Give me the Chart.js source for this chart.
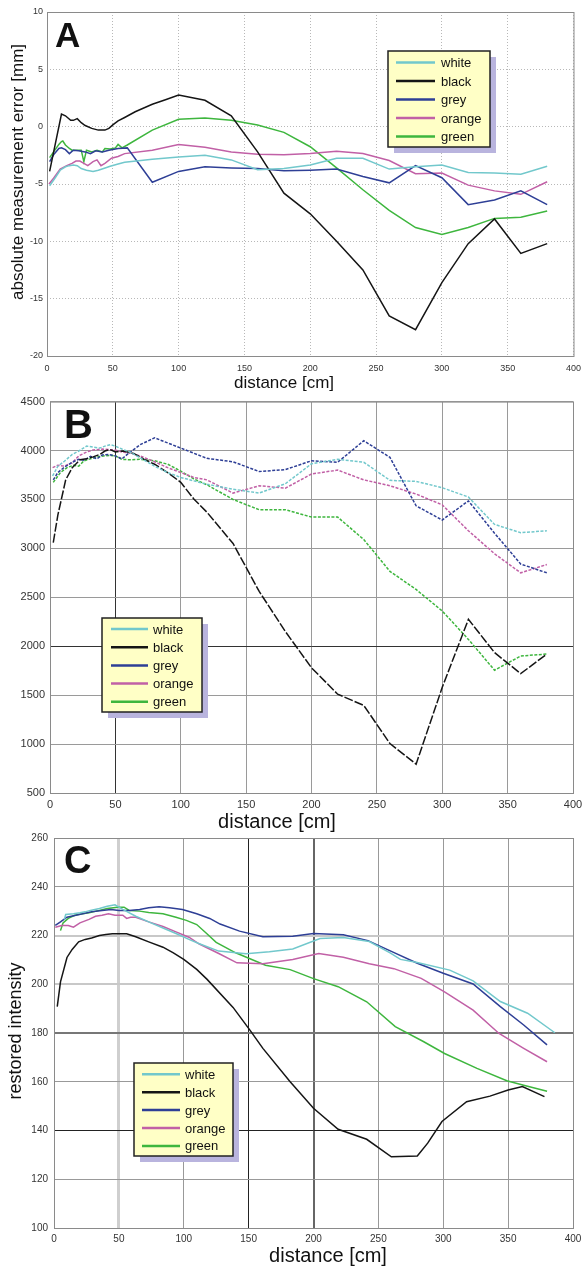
<!DOCTYPE html>
<html>
<head>
<meta charset="utf-8">
<script src="https://cdn.jsdelivr.net/npm/chart.js@4.4.1/dist/chart.umd.min.js"></script>
<style>
  body { margin: 0; background: #fff; width: 588px; height: 1267px; overflow: hidden; }
  canvas { position: absolute; left: 0; }
</style>
</head>
<body>
<canvas id="chartA" width="588" height="400" style="top:0px"></canvas>
<canvas id="chartB" width="588" height="450" style="top:390px"></canvas>
<canvas id="chartC" width="588" height="442" style="top:825px"></canvas>
<script>
// series names and shared x ticks
const seriesNames = ["white", "black", "grey", "orange", "green"];
const distanceTicks = [0, 50, 100, 150, 200, 250, 300, 350, 400];

// panel A - absolute measurement error [mm]
const aTicks = [-20, -15, -10, -5, 0, 5, 10];
const aWhiteX = [2, 6, 10, 14, 17, 20, 23, 26, 30, 35, 39, 43, 48, 54, 59, 80, 100, 120, 140, 160, 180, 200, 220, 240, 260, 280, 300, 320, 340, 360, 380];
const aWhiteY = [-5.15, -4.5, -3.8, -3.5, -3.4, -3.35, -3.4, -3.65, -3.8, -3.9, -3.8, -3.65, -3.45, -3.25, -3.1, -2.85, -2.65, -2.5, -2.9, -3.75, -3.65, -3.35, -2.75, -2.75, -3.7, -3.5, -3.35, -4.0, -4.05, -4.15, -3.45];
const aBlackX = [2, 11, 14, 18, 20, 23, 26, 29, 34, 39, 44, 47, 50, 54, 59, 67, 80, 90, 100, 120, 140, 160, 180, 200, 220, 240, 260, 280, 300, 320, 340, 360, 380];
const aBlackY = [-3.9, 1.1, 0.95, 0.55, 0.55, 0.7, 0.35, 0.1, -0.15, -0.3, -0.3, -0.15, 0.15, 0.5, 0.8, 1.3, 1.95, 2.35, 2.75, 2.3, 0.95, -2.2, -5.8, -7.6, -10.0, -12.5, -16.5, -17.7, -13.6, -10.2, -8.05, -11.05, -10.2];
const aGreyX = [2, 5, 9, 11, 14, 17, 20, 24, 29, 33, 37, 42, 47, 54, 61, 80, 100, 120, 140, 160, 180, 200, 220, 240, 260, 280, 300, 320, 340, 360, 380];
const aGreyY = [-3.05, -2.45, -1.9, -1.85, -2.0, -2.35, -2.05, -2.1, -2.2, -2.35, -2.1, -2.2, -2.05, -1.9, -1.85, -4.85, -3.9, -3.5, -3.6, -3.65, -3.85, -3.8, -3.7, -4.35, -4.9, -3.4, -4.45, -6.8, -6.4, -5.6, -6.8];
const aOrangeX = [1.5, 5, 10, 15, 19, 22, 25, 28, 31, 35, 38, 41, 44, 49, 54, 59, 80, 100, 120, 140, 160, 180, 200, 220, 240, 260, 280, 300, 320, 340, 360, 380];
const aOrangeY = [-5.0, -4.5, -3.7, -3.4, -3.2, -3.0, -3.0, -3.2, -3.4, -3.05, -2.9, -3.4, -3.2, -2.75, -2.6, -2.35, -2.05, -1.55, -1.8, -2.2, -2.4, -2.45, -2.35, -2.15, -2.35, -2.95, -4.1, -4.05, -5.1, -5.6, -5.9, -4.8];
const aGreenX = [2, 9, 11, 12, 14, 17, 19, 23, 26, 28, 30, 34, 38, 42, 44, 48, 52, 54, 57, 61, 80, 100, 120, 140, 160, 180, 200, 220, 240, 260, 280, 300, 320, 340, 360, 380];
const aGreenY = [-2.7, -1.55, -1.3, -1.25, -1.6, -1.9, -2.05, -2.05, -2.05, -3.05, -2.05, -2.2, -2.05, -2.2, -1.9, -1.95, -1.85, -1.55, -1.85, -1.6, -0.3, 0.64, 0.75, 0.55, 0.15, -0.5, -1.75, -3.6, -5.5, -7.3, -8.8, -9.4, -8.8, -8.0, -7.9, -7.35];

// panel B - raw values
const bTicks = [500, 1000, 1500, 2000, 2500, 3000, 3500, 4000, 4500];
const bWhiteX = [2, 6, 11, 17, 22, 28, 33, 38, 42, 46, 50, 55, 61, 69, 80, 90, 100, 110, 120, 140, 160, 180, 200, 220, 240, 260, 280, 300, 320, 340, 360, 380];
const bWhiteY = [3740, 3840, 3890, 3960, 3995, 4045, 4035, 4025, 4045, 4060, 4045, 4015, 3985, 3925, 3840, 3775, 3725, 3690, 3655, 3605, 3565, 3660, 3865, 3910, 3880, 3695, 3685, 3620, 3525, 3245, 3160, 3180];
const bBlackX = [2.5, 6, 12, 17, 23, 28, 33, 38, 42, 46, 50, 56, 64, 72, 80, 90, 100, 110, 120, 140, 160, 180, 200, 220, 240, 260, 280, 300, 320, 340, 360, 380];
const bBlackY = [3060, 3340, 3700, 3825, 3905, 3915, 3935, 3960, 3995, 4010, 3985, 3995, 3970, 3910, 3860, 3775, 3675, 3505, 3370, 3050, 2560, 2150, 1780, 1510, 1395, 1005, 795, 1580, 2275, 1935, 1720, 1920];
const bGreyX = [2.5, 6, 11, 17, 22, 26, 31, 36, 40, 45, 50, 55, 60, 69, 80, 100, 120, 140, 160, 180, 200, 220, 240, 260, 280, 300, 320, 340, 360, 380];
const bGreyY = [3700, 3775, 3830, 3880, 3910, 3900, 3940, 3915, 3955, 3960, 3945, 3915, 3970, 4060, 4130, 4025, 3920, 3885, 3785, 3805, 3895, 3880, 4100, 3930, 3435, 3290, 3485, 3155, 2840, 2750];
const bOrangeX = [2, 6, 11, 17, 22, 28, 33, 40, 45, 50, 55, 61, 69, 80, 90, 100, 110, 120, 140, 160, 180, 200, 220, 240, 260, 280, 300, 320, 340, 360, 380];
const bOrangeY = [3825, 3850, 3840, 3875, 3945, 3985, 4005, 4015, 4010, 4005, 3985, 3975, 3945, 3885, 3825, 3775, 3725, 3700, 3565, 3640, 3615, 3760, 3800, 3700, 3640, 3555, 3445, 3180, 2945, 2750, 2835];
const bGreenX = [2.5, 8, 13, 18, 22, 26, 31, 36, 41, 46, 50, 55, 61, 69, 80, 90, 100, 110, 120, 140, 160, 180, 200, 220, 240, 260, 280, 300, 320, 340, 360, 380];
const bGreenY = [3675, 3775, 3825, 3850, 3840, 3895, 3915, 3935, 3945, 3950, 3945, 3910, 3905, 3910, 3895, 3860, 3790, 3710, 3650, 3500, 3395, 3395, 3320, 3320, 3090, 2765, 2580, 2360, 2070, 1755, 1900, 1920];

// panel C - restored intensity
const cTicks = [100, 120, 140, 160, 180, 200, 220, 240, 260];
const cWhiteX = [8, 9, 15, 20, 24, 28, 35, 41, 47, 53, 63, 73, 84, 94, 104, 112, 127, 148, 166, 184, 205, 223, 243, 259, 267, 280, 305, 323, 344, 365, 386];
const cWhiteY = [226.5, 228.6, 228.9, 229.3, 229.7, 230.3, 231.1, 232, 232.6, 230.7, 227.9, 225.6, 223.1, 220.8, 218.4, 216.6, 213.6, 212.5, 213.3, 214.5, 218.8, 219.2, 217.5, 212.9, 210.2, 208.9, 205.8, 201.4, 192.9, 188.1, 180.1];
const cBlackX = [2.5, 5, 10, 14, 19, 24, 29, 35, 40, 45, 50, 56, 63, 73, 84, 92, 100, 110, 118, 138, 151, 161, 182, 200, 219, 241, 260, 280, 288, 299, 318, 336, 350, 361, 378];
const cBlackY = [190.8, 201, 211, 214.3, 217.4, 218.4, 219, 220, 220.4, 220.7, 220.7, 220.7, 219.5, 217.4, 215.2, 212.9, 210.2, 206.1, 202, 190.5, 181.2, 173.7, 160, 149.1, 140.5, 136.4, 129.2, 129.5, 134.8, 143.7, 151.8, 154.1, 156.6, 158, 153.9];
const cGreyX = [1, 5, 10, 16, 22, 29, 37, 44, 50, 58, 66, 73, 81, 89, 99, 110, 120, 128, 143, 161, 184, 200, 223, 242, 260, 280, 300, 323, 344, 362, 380];
const cGreyY = [224.2, 225.6, 227.5, 228.2, 228.9, 229.7, 230.3, 230.7, 230.3, 230.3, 230.7, 231.4, 231.8, 231.4, 230.7, 228.9, 227, 224.7, 221.8, 219.5, 219.7, 220.8, 220.3, 217.9, 213.5, 208.6, 204.5, 200.1, 190.8, 183.3, 175.1];
const cOrangeX = [1, 6, 11, 15, 20, 27, 32, 37, 42, 47, 53, 56, 59, 63, 73, 84, 94, 104, 112, 127, 141, 161, 184, 204, 223, 243, 262, 283, 301, 323, 343, 362, 380];
const cOrangeY = [223.4, 224.1, 224.1, 223.4, 225.2, 226.6, 227.9, 228.3, 228.9, 228.3, 228.3, 227, 227.5, 227.5, 225.6, 223.7, 221.5, 219.3, 216.5, 212.6, 208.8, 208.4, 210.2, 212.6, 211.1, 208.4, 206.4, 202.4, 196.9, 189.4, 179.8, 173.7, 168.2];
const cGreenX = [5, 7, 11, 16, 22, 27, 35, 41, 49, 54, 58, 66, 73, 84, 94, 102, 110, 117, 125, 140, 163, 182, 200, 219, 241, 263, 285, 301, 326, 349, 362, 380];
const cGreenY = [222, 225.2, 227, 228.3, 228.9, 229.3, 230.3, 231.1, 231.6, 231.6, 230.3, 230, 229.4, 228.9, 227.5, 226.2, 224.5, 221.1, 217.2, 212.9, 207.8, 206, 202.3, 199, 192.8, 182.6, 176.4, 171.6, 165.5, 160.4, 158.6, 156.1];

const colors = {
  white: "#72c8cc",
  black: "#151515",
  grey: "#2e3f96",
  orange: "#c160a6",
  green: "#3eb63e",
};

const toPoints = (xs, ys) => xs.map((x, i) => ({ x, y: ys[i] }));

const makeDatasets = (pairs, dashes) =>
  seriesNames.map((name, i) => ({
    label: name,
    data: toPoints(pairs[i][0], pairs[i][1]),
    borderColor: colors[name],
    borderWidth: 1.5,
    borderDash: dashes ? dashes[name] : [],
    pointRadius: 0,
    tension: 0,
    fill: false,
  }));

// draws frame, panel letter, axis titles and the legend box
const decorPlugin = {
  id: "decor",
  afterDraw(chart, args, o) {
    const { ctx, chartArea: a } = chart;
    ctx.save();
    ctx.strokeStyle = o.frameColor;
    ctx.lineWidth = 1;
    ctx.strokeRect(a.left + 0.5, a.top + 0.5, a.right - a.left, a.bottom - a.top);

    ctx.fillStyle = "#111";
    ctx.font = `bold ${o.letter.size}px Arial, "Liberation Sans", sans-serif`;
    ctx.textAlign = "left";
    ctx.textBaseline = "alphabetic";
    ctx.fillText(o.letter.text, o.letter.x, o.letter.y);

    ctx.font = `${o.xTitle.size}px Arial, "Liberation Sans", sans-serif`;
    ctx.textAlign = "center";
    ctx.textBaseline = "middle";
    ctx.fillText("distance [cm]", o.xTitle.x, o.xTitle.y);

    if (o.yTitle) {
      ctx.save();
      ctx.translate(o.yTitle.x, o.yTitle.y);
      ctx.rotate(-Math.PI / 2);
      ctx.font = `${o.yTitle.size}px Arial, "Liberation Sans", sans-serif`;
      ctx.fillText(o.yTitle.text, 0, 0);
      ctx.restore();
    }

    const L = o.legend;
    ctx.fillStyle = "#b9b4de";
    ctx.fillRect(L.x + 6, L.y + 6, L.w, L.h);
    ctx.fillStyle = "#ffffc6";
    ctx.fillRect(L.x, L.y, L.w, L.h);
    ctx.strokeStyle = "#222";
    ctx.lineWidth = 1.5;
    ctx.strokeRect(L.x, L.y, L.w, L.h);
    ctx.font = '13px Arial, "Liberation Sans", sans-serif';
    ctx.textAlign = "left";
    ctx.textBaseline = "middle";
    seriesNames.forEach((name, i) => {
      const y = L.y + L.first + i * L.gap;
      ctx.strokeStyle = colors[name];
      ctx.lineWidth = 2.5;
      ctx.beginPath();
      ctx.moveTo(L.x0, y);
      ctx.lineTo(L.x1, y);
      ctx.stroke();
      ctx.fillStyle = "#111";
      ctx.fillText(name, L.tx, y + 1);
    });
    ctx.restore();
  },
};

const tickFont = (size) => ({ family: 'Arial, "Liberation Sans", sans-serif', size });
const plainLabel = (v) => String(v);

function makeChart(id, cfg) {
  return new Chart(document.getElementById(id), {
    type: "line",
    data: { datasets: cfg.datasets },
    plugins: [decorPlugin],
    options: {
      responsive: false,
      animation: false,
      events: [],
      layout: { padding: { top: cfg.top, right: cfg.right, left: 0, bottom: 0 } },
      plugins: { legend: { display: false }, tooltip: { enabled: false }, decor: cfg.decor },
      scales: {
        x: {
          type: "linear",
          min: 0,
          max: 400,
          afterBuildTicks: (s) => { s.ticks = distanceTicks.map((v) => ({ value: v })); },
          afterFit: (s) => { s.height = cfg.xHeight; },
          grid: { color: cfg.xGrid, lineWidth: cfg.xGridWidth || 1, drawTicks: false },
          border: { display: false, dash: cfg.dash },
          ticks: { font: tickFont(cfg.tickSize), color: "#333", padding: cfg.xPad, maxRotation: 0, callback: plainLabel },
        },
        y: {
          type: "linear",
          min: cfg.yTicks[0],
          max: cfg.yTicks[cfg.yTicks.length - 1],
          afterBuildTicks: (s) => { s.ticks = cfg.yTicks.map((v) => ({ value: v })); },
          afterFit: (s) => { s.width = cfg.yWidth; },
          grid: { color: cfg.yGrid, lineWidth: cfg.yGridWidth || 1, drawTicks: false },
          border: { display: false, dash: cfg.dash },
          ticks: { font: tickFont(cfg.yTickSize || cfg.tickSize), color: "#333", padding: cfg.yPad, callback: plainLabel },
        },
      },
    },
  });
}

makeChart("chartA", {
  datasets: makeDatasets([
    [aWhiteX, aWhiteY], [aBlackX, aBlackY], [aGreyX, aGreyY], [aOrangeX, aOrangeY], [aGreenX, aGreenY],
  ]),
  yTicks: aTicks,
  top: 12, right: 12, xHeight: 44, yWidth: 47,
  tickSize: 9, xPad: 7, yPad: 4,
  dash: [1, 2],
  xGrid: "#b8b8b8", yGrid: "#b8b8b8",
  decor: {
    frameColor: "#8a8a8a",
    letter: { text: "A", size: 35, x: 55, y: 47 },
    xTitle: { size: 17, x: 284, y: 383 },
    yTitle: { text: "absolute measurement error [mm]", size: 17, x: 18, y: 172 },
    legend: { x: 388, y: 51, w: 102, h: 96, first: 11.5, gap: 18.5, x0: 396, x1: 435, tx: 441 },
  },
});

makeChart("chartB", {
  datasets: makeDatasets([
    [bWhiteX, bWhiteY], [bBlackX, bBlackY], [bGreyX, bGreyY], [bOrangeX, bOrangeY], [bGreenX, bGreenY],
  ], { white: [3, 1.5], black: [9, 2], grey: [3, 1.5], orange: [3, 1.5], green: [3, 1.5] }),
  yTicks: bTicks,
  top: 9, right: 15, xHeight: 47, yWidth: 50,
  tickSize: 11, yTickSize: 11, xPad: 5, yPad: 5,
  dash: [],
  xGrid: (c) => (c.tick && c.tick.value === 50 ? "#333" : "#9a9a9a"),
  yGrid: (c) => (c.tick && c.tick.value === 2000 ? "#333" : "#9a9a9a"),
  decor: {
    frameColor: "#8a8a8a",
    letter: { text: "B", size: 40, x: 64, y: 48 },
    xTitle: { size: 20, x: 277, y: 432 },
    legend: { x: 102, y: 228, w: 100, h: 94, first: 11, gap: 18.2, x0: 111, x1: 148, tx: 153 },
  },
});

makeChart("chartC", {
  datasets: makeDatasets([
    [cWhiteX, cWhiteY], [cBlackX, cBlackY], [cGreyX, cGreyY], [cOrangeX, cOrangeY], [cGreenX, cGreenY],
  ]),
  yTicks: cTicks,
  top: 13, right: 15, xHeight: 39, yWidth: 54,
  tickSize: 10, xPad: 5, yPad: 6,
  dash: [],
  xGrid: (c) => {
    const v = c.tick && c.tick.value;
    if (v === 150) return "#222";
    if (v === 200) return "#666";
    if (v === 50) return "#cfcfcf";
    return "#999";
  },
  xGridWidth: (c) => {
    const v = c.tick && c.tick.value;
    if (v === 50) return 3;
    if (v === 200) return 2;
    return 1;
  },
  yGrid: (c) => {
    const v = c.tick && c.tick.value;
    if (v === 140) return "#222";
    if (v === 180) return "#777";
    if (v === 200 || v === 220) return "#c8c8c8";
    return "#999";
  },
  yGridWidth: (c) => {
    const v = c.tick && c.tick.value;
    if (v === 180 || v === 200 || v === 220) return 2;
    return 1;
  },
  decor: {
    frameColor: "#8a8a8a",
    letter: { text: "C", size: 38, x: 64, y: 48 },
    xTitle: { size: 20, x: 328, y: 431 },
    yTitle: { text: "restored intensity", size: 18, x: 16, y: 206 },
    legend: { x: 134, y: 238, w: 99, h: 93, first: 11.3, gap: 17.9, x0: 142, x1: 180, tx: 185 },
  },
});
</script>
</body>
</html>
